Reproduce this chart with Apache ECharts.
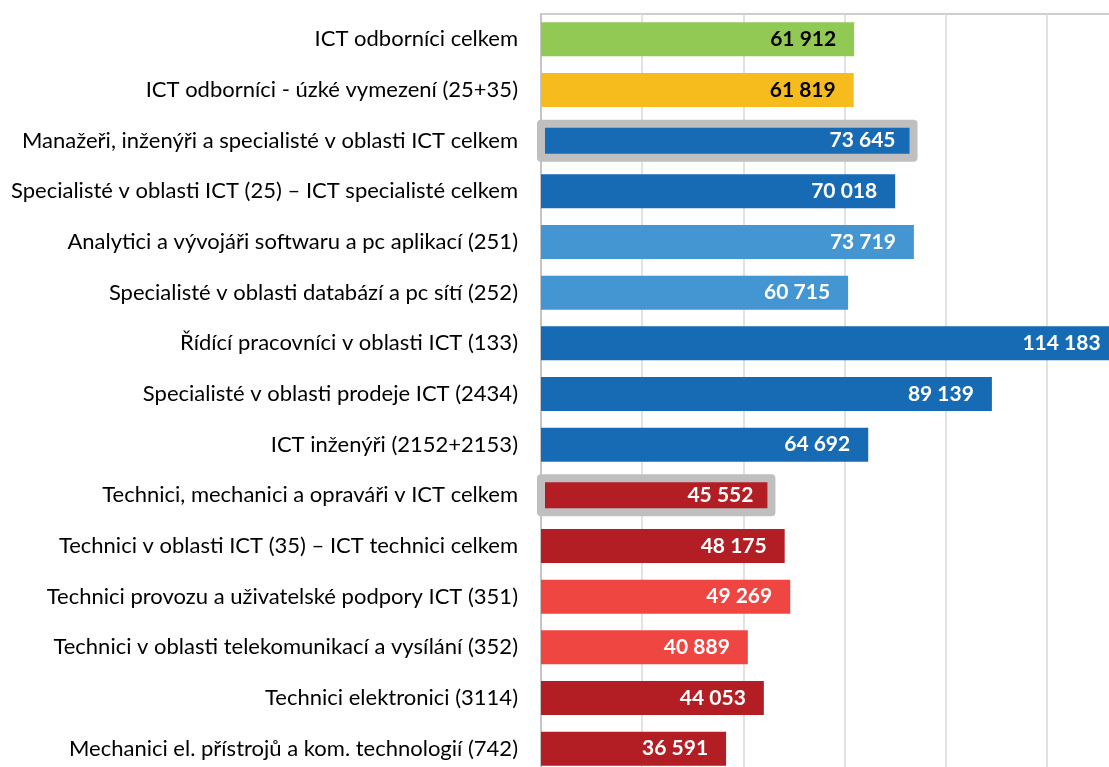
<!DOCTYPE html>
<html>
<head>
<meta charset="utf-8">
<script src="https://cdn.jsdelivr.net/npm/echarts@6/dist/echarts.min.js"></script>
<style>
  html, body { margin: 0; padding: 0; background: #fff; overflow: hidden; }
  /* graf přesahuje okno vpravo i dole, stejně jako v předloze */
  #main { width: 1160px; height: 790px; }
</style>
</head>
<body>
<div id="main"></div>
<script>
// kategorie (shora dolů)
var categories = [
  'ICT odborníci celkem',
  'ICT odborníci - úzké vymezení (25+35)',
  'Manažeři, inženýři a specialisté v oblasti ICT celkem',
  'Specialisté v oblasti ICT (25) – ICT specialisté celkem',
  'Analytici a vývojáři softwaru a pc aplikací (251)',
  'Specialisté v oblasti databází a pc sítí (252)',
  'Řídící pracovníci v oblasti ICT (133)',
  'Specialisté v oblasti prodeje ICT (2434)',
  'ICT inženýři (2152+2153)',
  'Technici, mechanici a opraváři v ICT celkem',
  'Technici v oblasti ICT (35) – ICT technici celkem',
  'Technici provozu a uživatelské podpory ICT (351)',
  'Technici v oblasti telekomunikací a vysílání (352)',
  'Technici elektronici (3114)',
  'Mechanici el. přístrojů a kom. technologií (742)'
];
var values = [61912, 61819, 73645, 70018, 73719, 60715, 114183, 89139, 64692, 45552, 48175, 49269, 40889, 44053, 36591];
var barColors = [
  '#92c955', '#f6bb1c',
  '#176bb4', '#176bb4', '#4496d3', '#4496d3', '#176bb4', '#176bb4', '#176bb4',
  '#b31e24', '#b31e24', '#ef4641', '#ef4641', '#b31e24', '#b31e24'
];
var darkLabel = [0, 1];      // černé popisky
var framed = [2, 9];         // souhrnné řádky s šedým rámečkem

var fmt = function (v) {
  return String(v).replace(/\B(?=(\d{3})+(?!\d))/g, ' ');
};

var seriesData = values.map(function (v, i) {
  return {
    value: v,
    itemStyle: { color: barColors[i] },
    label: { color: darkLabel.indexOf(i) >= 0 ? '#000' : '#fff' }
  };
});

var frameData = framed.map(function (i) { return [i, values[i]]; });

var myChart = echarts.init(document.getElementById('main'));
var option = {
  animation: false,
  grid: {
    left: 541,
    top: 14,
    width: 607,
    height: 760,
    show: true,
    borderColor: '#bfbfbf',
    borderWidth: 1.5
  },
  xAxis: {
    type: 'value',
    min: 0,
    max: 120000,
    interval: 20000,
    axisLabel: { show: false },
    axisLine: { show: false },
    axisTick: { show: false },
    splitLine: { lineStyle: { color: '#d9d9d9', width: 1.5 } }
  },
  yAxis: {
    type: 'category',
    inverse: true,
    data: categories,
    axisTick: { show: false },
    axisLine: { lineStyle: { color: '#bfbfbf', width: 1.5 } },
    axisLabel: {
      margin: 23,
      color: '#000',
      fontFamily: 'Lato',
      fontSize: 22
    }
  },
  series: [{
    type: 'bar',
    data: seriesData,
    barCategoryGap: '33%',
    label: {
      show: true,
      position: 'insideRight',
      distance: 18,
      fontFamily: 'Lato',
      fontWeight: 'bold',
      fontSize: 21,
      formatter: function (p) { return fmt(p.value); }
    }
  }, {
    // šedý rámeček kolem souhrnných sloupců
    type: 'custom',
    data: frameData,
    encode: { x: 1, y: 0 },
    z: 5,
    silent: true,
    renderItem: function (params, api) {
      var idx = api.value(0);
      var start = api.coord([0, idx]);
      var end = api.coord([api.value(1), idx]);
      var h = api.size([0, 1])[1] * 0.67;
      return {
        type: 'rect',
        shape: { x: start[0], y: start[1] - h / 2, width: end[0] - start[0], height: h },
        style: { fill: 'none', stroke: '#bfbfbf', lineWidth: 8, lineJoin: 'round' }
      };
    }
  }]
};
myChart.setOption(option);
window.addEventListener('resize', function () { myChart.resize(); });
</script>
</body>
</html>
